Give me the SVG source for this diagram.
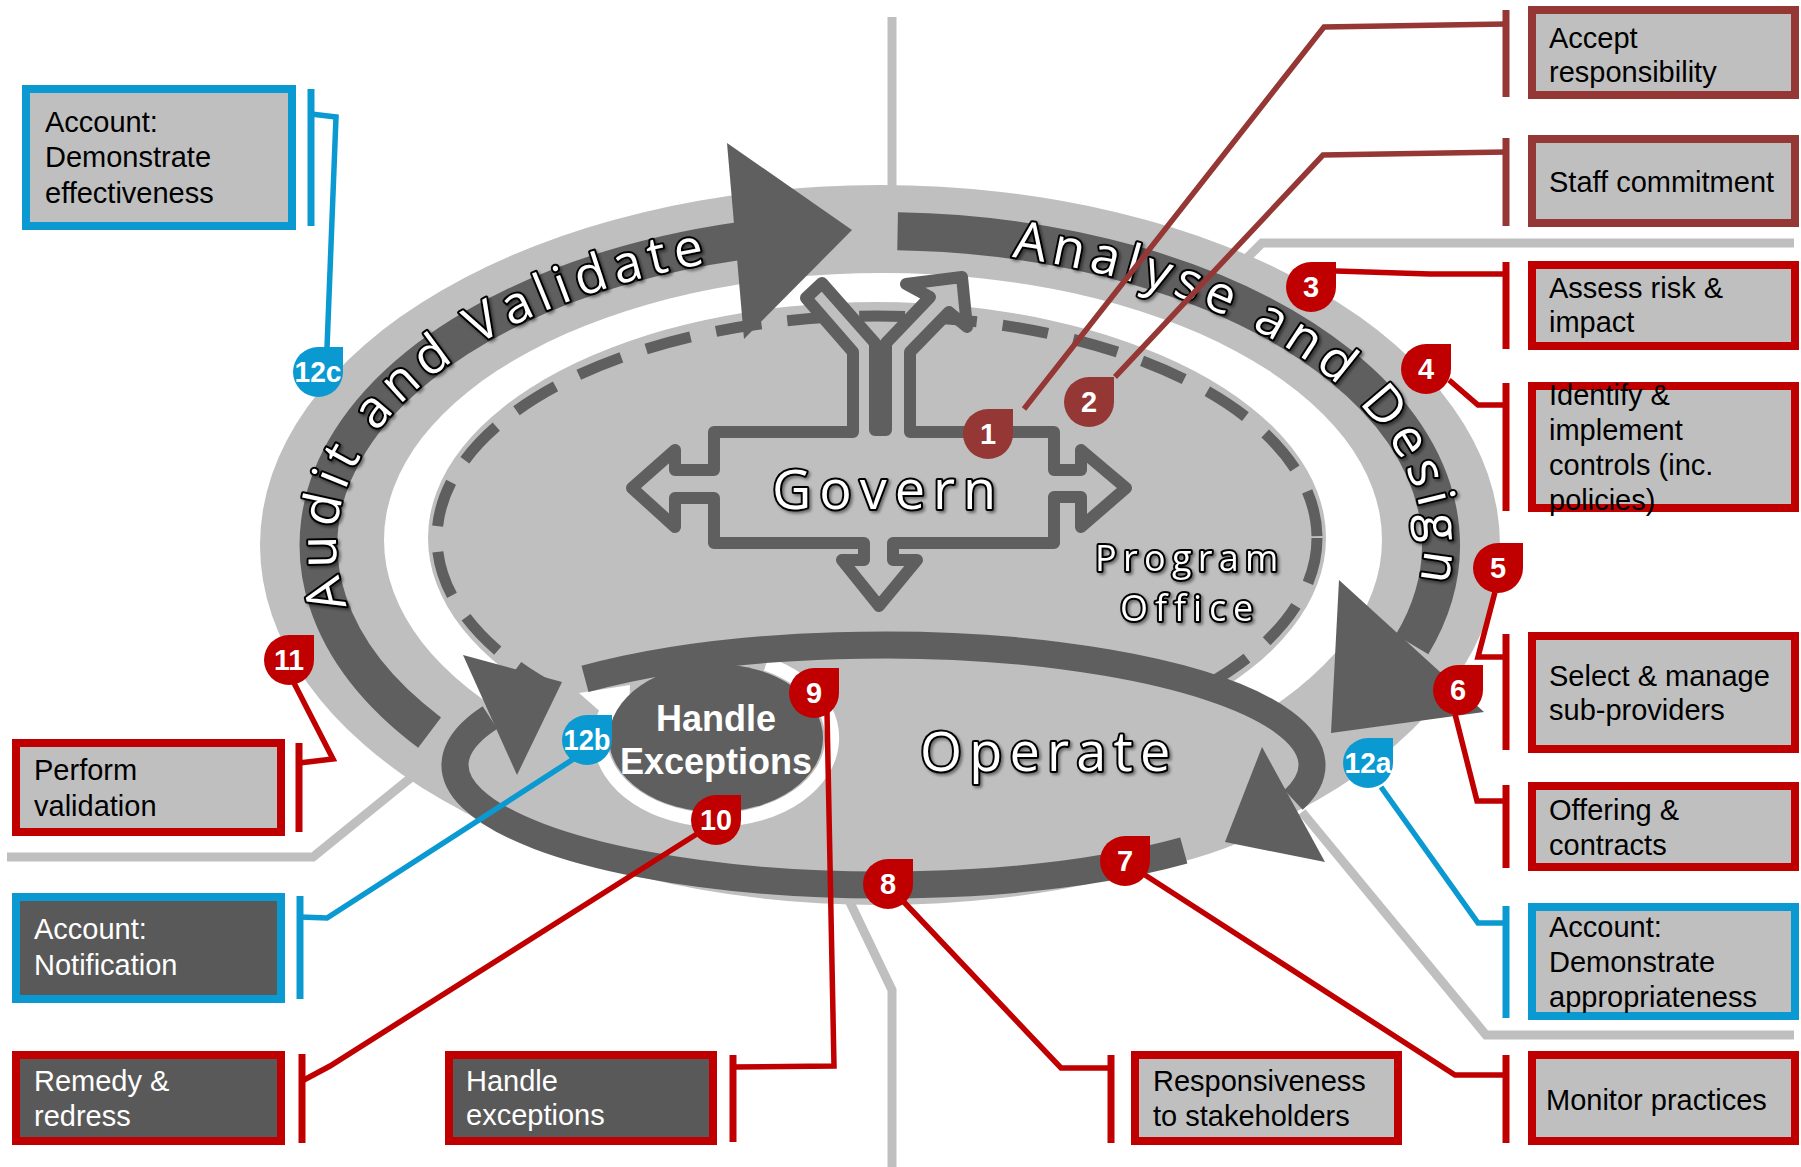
<svg xmlns="http://www.w3.org/2000/svg" width="1801" height="1167" viewBox="0 0 1801 1167">
  <style>
    .lg { fill: #bfbfbf; }
    .dk { fill: #5f5f5f; }
    .wh { fill: #ffffff; }
    .gline { fill: none; stroke: #bfbfbf; stroke-width: 9; }
    .band { fill: none; stroke: #5f5f5f; stroke-width: 38; }
    .opband { fill: none; stroke: #5f5f5f; stroke-width: 27; }
    .dash { fill: none; stroke: #5f5f5f; stroke-width: 11; stroke-dasharray: 46 26; }
    .icon { fill: #bfbfbf; stroke: #5f5f5f; stroke-width: 12; stroke-linejoin: round; }
    .outl { font-family: "Open Sans", "DejaVu Sans", sans-serif; fill: #ffffff; stroke: #000000; stroke-width: 4; paint-order: stroke; stroke-linejoin: round; }
    .conn { fill: none; stroke-width: 5.5; }
    .bar { fill: none; stroke-width: 7; }
    .dred { stroke: #953735; }
    .red { stroke: #c00000; }
    .blue { stroke: #0a9ad1; }
    .pdred { fill: #953735; }
    .pred { fill: #c00000; }
    .pblue { fill: #0a9ad1; }
    .pin-t { font-family: "Liberation Sans", Arial, sans-serif; font-weight: bold; font-size: 29px; fill: #ffffff; text-anchor: middle; }
    .box { stroke-width: 8; }
    .box-l { fill: #bfbfbf; }
    .box-d { fill: #595959; }
    .bt { font-family: "Liberation Sans", Arial, sans-serif; font-size: 29px; fill: #000000; }
    .bt-w { fill: #ffffff; }
  </style>
  <defs>
    <path id="pin" d="M0,-25H25V0A25,25 0 1 1 0,-25Z"/>
    <path id="arcText" d="M368.8,646.6 A544,297 0 1 1 1391.2,646.6"/>
    <filter id="shadow" x="-10%" y="-30%" width="120%" height="160%">
      <feDropShadow dx="2" dy="2" stdDeviation="1.5" flood-color="#000000" flood-opacity="0.45"/>
    </filter>
  </defs>

  <!-- background guide lines -->
  <g id="guides">
    <path class="gline" d="M892,17 V200"/>
    <path class="gline" d="M845,892 L892,990 V1167"/>
    <path class="gline" d="M1240,265 L1262,243 H1794"/>
    <path class="gline" d="M1302,812 L1486,1035 H1794"/>
    <path class="gline" d="M445,750 L313,857 H7"/>
  </g>

  <!-- program cycle -->
  <g id="cycle">
    <ellipse class="lg" cx="880" cy="545" rx="620" ry="360"/>
    <ellipse class="wh" cx="883" cy="540" rx="499" ry="267"/>
    <ellipse class="lg" cx="877" cy="538" rx="449" ry="236"/>
    <ellipse class="dash" cx="877" cy="538" rx="440" ry="222"/>
    <ellipse class="lg" cx="883.5" cy="765" rx="440" ry="132"/>
  </g>

  <!-- govern icon -->
  <g id="govern">
    <path class="icon" d="M714,432 L853,432 L853,352 L806,298 L822,283 L875,343 L875,430 L886,430 L886,343 L930,297 L906,284 L962,277 L967,327 L949,312 L910,352 L910,432 L1054,432 L1054,470 L1081,470 L1081,450 L1126,488 L1081,527 L1081,497 L1054,497 L1054,543 L893,543 L893,560 L917,560 L879,606 L842,560 L864,560 L864,543 L714,543 L714,498 L675,498 L675,527 L632,488 L675,450 L675,470 L714,470 Z"/>
    <text class="outl" filter="url(#shadow)" x="772" y="509" font-size="54" letter-spacing="8">Govern</text>
  </g>

  <g id="program-office">
    <text class="outl" filter="url(#shadow)" font-size="36" letter-spacing="6.3" stroke-width="3.5"><tspan x="1095" y="571">Program</tspan><tspan x="1120" y="621" letter-spacing="6.9">Office</tspan></text>
  </g>

  <!-- handle exceptions loop -->
  <g id="handle-exceptions">
    <path d="M766.2,663.8 A116,82 0 1 1 607,710" fill="none" stroke="#ffffff" stroke-width="14"/>
    <polygon class="wh" points="579,693 630,685 628,736"/>
    <ellipse cx="716" cy="738" rx="107" ry="74" fill="#5f5f5f"/>
    <text font-family="Liberation Sans, Arial, sans-serif" font-weight="bold" font-size="36" fill="#ffffff" text-anchor="middle"><tspan x="716" y="731">Handle</tspan><tspan x="716" y="774">Exceptions</tspan></text>
  </g>

  <!-- audit and validate arrow -->
  <g id="audit-validate">
    <path class="band" d="M429.6,732.6 A561,314 0 0 1 739.5,241"/>
    <polygon class="dk" points="727,143 852,230 744,339"/>
    <text class="outl" filter="url(#shadow)" font-size="52" letter-spacing="7"><textPath href="#arcText" startOffset="46">Audit and Validate</textPath></text>
  </g>

  <!-- analyse and design arrow -->
  <g id="analyse-design">
    <path class="band" d="M897.6,231.2 A561,314 0 0 1 1412,644.6"/>
    <polygon class="dk" points="1339,580 1484,712 1331,733"/>
    <text class="outl" filter="url(#shadow)" font-size="52" letter-spacing="6.3"><textPath href="#arcText" startOffset="915">Analyse and Design</textPath></text>
  </g>

  <!-- operate loop -->
  <g id="operate">
    <path class="opband" d="M585,678.9 A428.5,120 0 0 1 1293.5,799.9"/>
    <polygon class="dk" points="1262,747 1325,862 1225,842"/>
    <path class="opband" d="M1183.8,850.6 A428.5,120 0 0 1 490,717.5"/>
    <polygon class="dk" points="463,655 562,682 517,775"/>
    <text class="outl" filter="url(#shadow)" x="920" y="771" font-size="54" letter-spacing="7.2">Operate</text>
  </g>

  <!-- callout connectors -->
  <g id="connectors">
    <path class="conn dred" d="M1024,409 L1324,27 L1506,24"/>
    <path class="bar dred" d="M1506,10 V97"/>
    <path class="conn dred" d="M1115,377 L1323,155 L1506,152"/>
    <path class="bar dred" d="M1506,138 V226"/>
    <path class="conn red" d="M1336,271 L1430,274 L1506,274"/>
    <path class="bar red" d="M1506,262 V349"/>
    <path class="conn red" d="M1449,380 L1478,405 L1506,405"/>
    <path class="bar red" d="M1506,383 V511"/>
    <path class="conn red" d="M1495,592 L1478,657 L1506,657"/>
    <path class="bar red" d="M1506,634 V750"/>
    <path class="conn red" d="M1455,714 L1477,801 L1506,801"/>
    <path class="bar red" d="M1506,785 V868"/>
    <path class="conn blue" d="M1381,787 L1478,923 L1506,923"/>
    <path class="bar blue" d="M1506,906 V1018"/>
    <path class="conn red" d="M1145,875 L1455,1075 L1506,1075"/>
    <path class="bar red" d="M1506,1055 V1143"/>
    <path class="conn red" d="M902,900 L1061,1068 L1111,1068"/>
    <path class="bar red" d="M1111,1055 V1143"/>
    <path class="conn red" d="M827,712 L834,1066 L733,1067"/>
    <path class="bar red" d="M733,1055 V1142"/>
    <path class="conn red" d="M700,832 L330,1066 L302,1081"/>
    <path class="bar red" d="M302,1054 V1143"/>
    <path class="conn blue" d="M575,758 L327,918 L300,917"/>
    <path class="bar blue" d="M300,896 V999"/>
    <path class="conn red" d="M294,683 L333,759 L299,763"/>
    <path class="bar red" d="M299,743 V832"/>
    <path class="conn blue" d="M327,348 L336,117 L311,114"/>
    <path class="bar blue" d="M311,89 V226"/>
  </g>

  <!-- numbered markers -->
  <g id="m1"><use href="#pin" class="pdred" x="988" y="434"/><text class="pin-t" x="988" y="444">1</text></g>
  <g id="m2"><use href="#pin" class="pdred" x="1089" y="402"/><text class="pin-t" x="1089" y="412">2</text></g>
  <g id="m3"><use href="#pin" class="pred" x="1311" y="287"/><text class="pin-t" x="1311" y="297">3</text></g>
  <g id="m4"><use href="#pin" class="pred" x="1426" y="369"/><text class="pin-t" x="1426" y="379">4</text></g>
  <g id="m5"><use href="#pin" class="pred" x="1498" y="568"/><text class="pin-t" x="1498" y="578">5</text></g>
  <g id="m6"><use href="#pin" class="pred" x="1458" y="690"/><text class="pin-t" x="1458" y="700">6</text></g>
  <g id="m7"><use href="#pin" class="pred" x="1125" y="861"/><text class="pin-t" x="1125" y="871">7</text></g>
  <g id="m8"><use href="#pin" class="pred" x="888" y="884"/><text class="pin-t" x="888" y="894">8</text></g>
  <g id="m9"><use href="#pin" class="pred" x="814" y="693"/><text class="pin-t" x="814" y="703">9</text></g>
  <g id="m10"><use href="#pin" class="pred" x="716" y="820"/><text class="pin-t" x="716" y="830" textLength="32" lengthAdjust="spacingAndGlyphs">10</text></g>
  <g id="m11"><use href="#pin" class="pred" x="289" y="660"/><text class="pin-t" x="289" y="670" textLength="30" lengthAdjust="spacingAndGlyphs">11</text></g>
  <g id="m12a"><use href="#pin" class="pblue" x="1368" y="763"/><text class="pin-t" x="1368" y="773" textLength="47" lengthAdjust="spacingAndGlyphs">12a</text></g>
  <g id="m12b"><use href="#pin" class="pblue" x="587" y="740"/><text class="pin-t" x="587" y="750" textLength="47" lengthAdjust="spacingAndGlyphs">12b</text></g>
  <g id="m12c"><use href="#pin" class="pblue" x="318" y="372"/><text class="pin-t" x="318" y="382" textLength="47" lengthAdjust="spacingAndGlyphs">12c</text></g>

  <!-- activity boxes -->
  <g id="accept-responsibility">
    <rect class="box box-l dred" x="1532" y="10" width="263" height="85"/>
    <text class="bt"><tspan x="1549" y="48">Accept</tspan><tspan x="1549" y="82">responsibility</tspan></text>
  </g>
  <g id="staff-commitment">
    <rect class="box box-l dred" x="1532" y="139" width="263" height="84"/>
    <text class="bt" x="1549" y="192">Staff commitment</text>
  </g>
  <g id="assess-risk">
    <rect class="box box-l red" x="1532" y="265" width="263" height="81"/>
    <text class="bt"><tspan x="1549" y="298">Assess risk &amp;</tspan><tspan x="1549" y="332">impact</tspan></text>
  </g>
  <g id="identify-controls">
    <rect class="box box-l red" x="1532" y="386" width="263" height="122"/>
    <text class="bt"><tspan x="1549" y="405">Identify &amp;</tspan><tspan x="1549" y="440">implement</tspan><tspan x="1549" y="475">controls (inc.</tspan><tspan x="1549" y="510">policies)</tspan></text>
  </g>
  <g id="select-providers">
    <rect class="box box-l red" x="1532" y="636" width="263" height="113"/>
    <text class="bt"><tspan x="1549" y="686">Select &amp; manage</tspan><tspan x="1549" y="720">sub-providers</tspan></text>
  </g>
  <g id="offering-contracts">
    <rect class="box box-l red" x="1532" y="786" width="263" height="81"/>
    <text class="bt"><tspan x="1549" y="820">Offering &amp;</tspan><tspan x="1549" y="855">contracts</tspan></text>
  </g>
  <g id="account-appropriateness">
    <rect class="box box-l blue" x="1532" y="907" width="263" height="109"/>
    <text class="bt"><tspan x="1549" y="937">Account:</tspan><tspan x="1549" y="972">Demonstrate</tspan><tspan x="1549" y="1007">appropriateness</tspan></text>
  </g>
  <g id="monitor-practices">
    <rect class="box box-l red" x="1532" y="1055" width="263" height="86"/>
    <text class="bt" x="1546" y="1110">Monitor practices</text>
  </g>
  <g id="responsiveness">
    <rect class="box box-l red" x="1135" y="1055" width="263" height="86"/>
    <text class="bt"><tspan x="1153" y="1091">Responsiveness</tspan><tspan x="1153" y="1126">to stakeholders</tspan></text>
  </g>
  <g id="handle-exceptions-box">
    <rect class="box box-d red" x="449" y="1055" width="264" height="86"/>
    <text class="bt bt-w"><tspan x="466" y="1091">Handle</tspan><tspan x="466" y="1125">exceptions</tspan></text>
  </g>
  <g id="remedy-redress">
    <rect class="box box-d red" x="16" y="1055" width="265" height="86"/>
    <text class="bt bt-w"><tspan x="34" y="1091">Remedy &amp;</tspan><tspan x="34" y="1126">redress</tspan></text>
  </g>
  <g id="account-notification">
    <rect class="box box-d blue" x="16" y="897" width="265" height="102"/>
    <text class="bt bt-w"><tspan x="34" y="939">Account:</tspan><tspan x="34" y="975">Notification</tspan></text>
  </g>
  <g id="perform-validation">
    <rect class="box box-l red" x="16" y="743" width="265" height="89"/>
    <text class="bt"><tspan x="34" y="780">Perform</tspan><tspan x="34" y="816">validation</tspan></text>
  </g>
  <g id="account-effectiveness">
    <rect class="box box-l blue" x="26" y="89" width="266" height="137"/>
    <text class="bt"><tspan x="45" y="132">Account:</tspan><tspan x="45" y="167">Demonstrate</tspan><tspan x="45" y="203">effectiveness</tspan></text>
  </g>
</svg>
